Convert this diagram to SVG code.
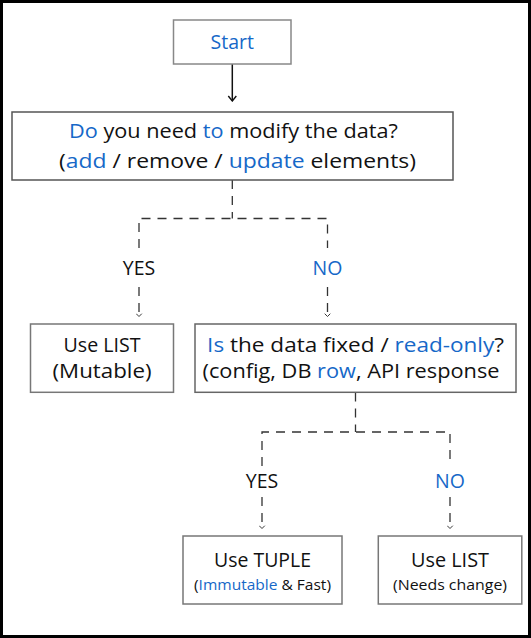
<svg xmlns="http://www.w3.org/2000/svg" width="531" height="638" viewBox="0 0 531 638">
<defs>
<style>
text{font-family:"Open Sans","Noto Sans","Liberation Sans",sans-serif;fill:#111;text-anchor:middle;font-weight:500}
.b{fill:#1668c8}
.box{fill:#fff;stroke:#777;stroke-width:1.5}
.dash{fill:none;stroke:#333;stroke-width:1.3;stroke-dasharray:9 7}
.solid{fill:none;stroke:#111;stroke-width:1.5}
.q{font-size:20.5px}
.lbl{font-size:19.5px}
.sm{font-size:15px}
</style>
<marker id="ah" viewBox="0 0 10 10" refX="9" refY="5" markerWidth="10" markerHeight="10" markerUnits="userSpaceOnUse" orient="auto">
<path d="M4,1 L9,5 L4,9" fill="none" stroke="#111" stroke-width="1.4"/>
</marker>
<marker id="ahs" viewBox="0 0 10 10" refX="9" refY="5" markerWidth="7" markerHeight="7" markerUnits="userSpaceOnUse" orient="auto">
<path d="M5,1 L9,5 L5,9" fill="none" stroke="#333" stroke-width="1.4"/>
</marker>
</defs>
<rect x="0" y="0" width="531" height="638" fill="#fff"/>
<rect x="1.5" y="1.5" width="528" height="635" fill="none" stroke="#000" stroke-width="3"/>

<g id="connectors">
<line class="solid" x1="232.3" y1="64" x2="232.3" y2="101" marker-end="url(#ah)"/>
<path class="dash" d="M232.3,180 V218.5"/>
<path class="dash" d="M139,248 V218.5 H327.5 V248"/>
<path class="dash" d="M139,287 V316.5" marker-end="url(#ahs)"/>
<path class="dash" d="M327.5,287 V316.5" marker-end="url(#ahs)"/>
<path class="dash" d="M355.5,392.5 V432"/>
<path class="dash" d="M262,466 V432 H450 V466"/>
<path class="dash" d="M262,497 V528.5" marker-end="url(#ahs)"/>
<path class="dash" d="M450,497 V528.5" marker-end="url(#ahs)"/>
<text class="lbl" x="139" y="275">YES</text>
<text class="lbl b" x="327.5" y="275">NO</text>
<text class="lbl" x="262" y="488">YES</text>
<text class="lbl b" x="450" y="488">NO</text>
</g>

<g id="start">
<rect class="box" x="173.5" y="20" width="117.5" height="44" style="stroke:#888"/>
<text class="b" x="232.3" y="49.3" font-size="19.5">Start</text>
</g>

<g id="q1">
<rect class="box" x="12" y="112" width="441" height="68" style="stroke:#555"/>
<text class="q" x="233.5" y="138" textLength="329" lengthAdjust="spacingAndGlyphs"><tspan class="b">Do</tspan> you need <tspan class="b">to</tspan> modify the data?</text>
<text class="q" x="237.5" y="168" textLength="357" lengthAdjust="spacingAndGlyphs">(<tspan class="b">add</tspan> / remove / <tspan class="b">update</tspan> elements)</text>
</g>

<g id="list1">
<rect class="box" x="30.5" y="324" width="143" height="68.3"/>
<text class="q" x="102" y="352" textLength="77" lengthAdjust="spacingAndGlyphs">Use LIST</text>
<text class="q" x="102" y="378" textLength="99" lengthAdjust="spacingAndGlyphs">(Mutable)</text>
</g>

<g id="q2">
<rect class="box" x="195" y="324" width="321" height="68.3" style="stroke:#666"/>
<text class="q" x="355.6" y="352" textLength="297" lengthAdjust="spacingAndGlyphs"><tspan class="b">Is</tspan> the data fixed / <tspan class="b">read-only</tspan>?</text>
<text class="q" x="351" y="378" textLength="297" lengthAdjust="spacingAndGlyphs">(config, DB <tspan class="b">row</tspan>, API response</text>
</g>

<g id="tuple">
<rect class="box" x="183" y="536" width="159" height="68"/>
<text x="262.5" y="566.7" font-size="20.5" textLength="97" lengthAdjust="spacingAndGlyphs">Use TUPLE</text>
<text class="sm" x="262.5" y="590" textLength="137" lengthAdjust="spacingAndGlyphs">(<tspan class="b">Immutable</tspan> &amp; Fast)</text>
</g>

<g id="list2">
<rect class="box" x="378.3" y="536" width="143.5" height="68"/>
<text x="450" y="566.7" font-size="20.5" textLength="78" lengthAdjust="spacingAndGlyphs">Use LIST</text>
<text class="sm" x="450" y="590" textLength="114" lengthAdjust="spacingAndGlyphs">(Needs change)</text>
</g>
</svg>
